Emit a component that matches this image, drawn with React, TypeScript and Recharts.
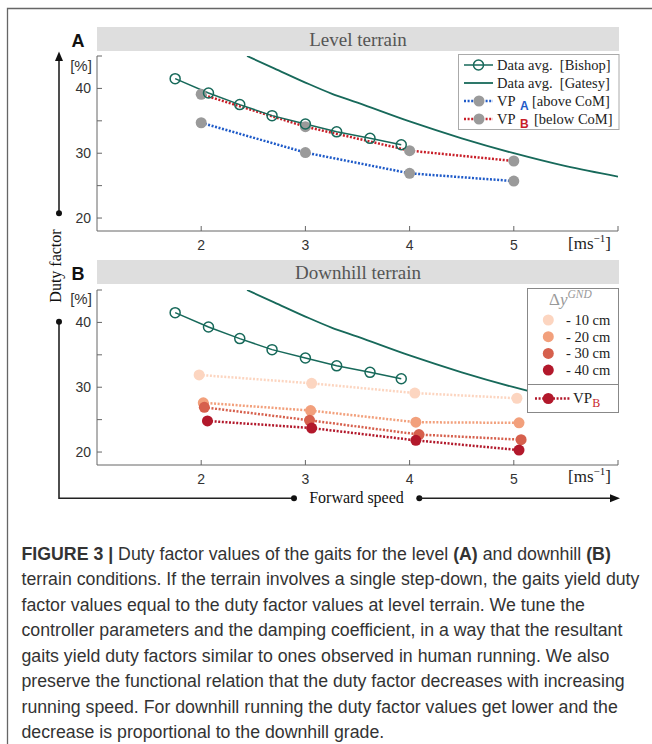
import React from 'react';
import { LineChart, Line, XAxis, YAxis } from 'recharts';

// forward speed [m/s] and duty factor [%]
const bishopSpeed = [1.75, 2.07, 2.37, 2.68, 3.0, 3.3, 3.62, 3.92];
const bishopDuty = [41.5, 39.3, 37.5, 35.8, 34.5, 33.3, 32.3, 31.3];

const gatesySpeed = [2.44, 2.7, 3.0, 3.25, 3.5, 4.0, 4.5, 5.0, 5.5, 6.0];
const gatesyDuty = [45, 43.1, 40.9, 39.2, 37.8, 34.9, 32.3, 30.0, 28.0, 26.4];

const vpSpeed = [2, 3, 4, 5];
const vpAboveDuty = [34.7, 30.1, 26.9, 25.7];
const vpBelowDuty = [39.1, 34.1, 30.4, 28.8];

const step10Speed = [1.98, 3.06, 4.05, 5.03];
const step10Duty = [31.9, 30.6, 29.1, 28.3];
const step20Speed = [2.02, 3.05, 4.06, 5.05];
const step20Duty = [27.6, 26.4, 24.6, 24.5];
const step30Speed = [2.03, 3.04, 4.09, 5.07];
const step30Duty = [26.9, 24.9, 22.7, 21.9];
const step40Speed = [2.06, 3.06, 4.06, 5.05];
const step40Duty = [24.8, 23.7, 21.8, 20.3];

const speedTicks = [2, 3, 4, 5, 6];
const dutyTicks = [20, 25, 30, 35, 40, 45];
const stepLabels = ['- 10 cm', '- 20 cm', '- 30 cm', '- 40 cm'];

const captionLines: [string, boolean][][] = [
  [['FIGURE 3 | ', true], ['Duty factor values of the gaits for the level ', false], ['(A)', true], [' and downhill ', false], ['(B)', true]],
  [['terrain conditions. If the terrain involves a single step-down, the gaits yield duty', false]],
  [['factor values equal to the duty factor values at level terrain. We tune the', false]],
  [['controller parameters and the damping coefficient, in a way that the resultant', false]],
  [['gaits yield duty factors similar to ones observed in human running. We also', false]],
  [['preserve the functional relation that the duty factor decreases with increasing', false]],
  [['running speed. For downhill running the duty factor values get lower and the', false]],
  [['decrease is proportional to the downhill grade.', false]],
];

const pts = (xs: number[], ys: number[]) => xs.map((speed, i) => ({ speed, duty: ys[i] }));

const GREEN = '#17695a';
const BLUE = '#1e5ac8';
const RED = '#c81e28';
const GREY = '#9a9a9a';
const stepColors = ['#fcd5c0', '#f2a07c', '#d6604d', '#b2182b'];
const SERIF = '"Liberation Serif", "DejaVu Serif", serif';
const SANS = '"Liberation Sans", Arial, sans-serif';
const DOTS = '2 1.6';
const CAP_SIZE = 18.5;

// caption font in the figure is a bit condensed: squeeze all lines by one factor
function lineWidth(segs: [string, boolean][]) {
  const ctx = document.createElement('canvas').getContext('2d');
  if (!ctx) return 700;
  let w = 0;
  for (const [t, b] of segs) {
    ctx.font = `${b ? 'bold ' : ''}${CAP_SIZE}px "Liberation Sans"`;
    w += ctx.measureText(t).width;
  }
  return w;
}
const capScale = (640 - 21.5) / lineWidth(captionLines[1]);

function YTick(props: any) {
  const { x, y, payload } = props;
  const v = payload.value;
  return (
    <g>
      <line x1={x} x2={x + 5} y1={y} y2={y} stroke="#666" />
      {v % 10 === 0 && (
        <text x={x - 6} y={y + 5} textAnchor="end" fontSize={14} fontFamily={SANS} fill="#333">
          {v}
        </text>
      )}
    </g>
  );
}

function XTick(props: any) {
  const { x, y, payload } = props;
  const v = payload.value;
  return (
    <g>
      <line x1={x} x2={x} y1={y} y2={y - 5} stroke="#666" />
      {v < 6 && (
        <text x={x} y={y + 19} textAnchor="middle" fontSize={14} fontFamily={SANS} fill="#333">
          {v}
        </text>
      )}
    </g>
  );
}

const axes = [
  <XAxis key="x" type="number" dataKey="speed" domain={[1, 6]} ticks={speedTicks} interval={0}
    allowDataOverflow tickLine={false} tickSize={0} tickMargin={0} tick={<XTick />} stroke="#666" height={30} />,
  <YAxis key="y" type="number" dataKey="duty" domain={[18, 45]} ticks={dutyTicks} interval={0}
    allowDataOverflow tickLine={false} tickSize={0} tickMargin={0} tick={<YTick />} stroke="#666" width={40} />,
];
const chartProps = { width: 652, height: 262, margin: { top: 56, right: 34, bottom: 1, left: 57 } };

function Bishop() {
  return (
    <Line data={pts(bishopSpeed, bishopDuty)} dataKey="duty" type="linear" stroke={GREEN} strokeWidth={1.5}
      dot={{ r: 5, fill: 'none', stroke: GREEN, strokeWidth: 1.5 }} activeDot={false} isAnimationActive={false} />
  );
}

export default function App() {
  return (
    <div style={{ position: 'absolute', left: 0, top: 0, width: 652, height: 744, background: '#fff', overflow: 'hidden' }}>
      <div style={{ position: 'absolute', left: 0, top: 0 }}>
        <LineChart {...chartProps}>
          {axes}
          <Line data={pts(gatesySpeed, gatesyDuty)} dataKey="duty" type="monotone" stroke={GREEN} strokeWidth={1.8}
            dot={false} activeDot={false} isAnimationActive={false} />
          <Line data={pts(vpSpeed, vpAboveDuty)} dataKey="duty" stroke={BLUE} strokeWidth={2.5} strokeDasharray={DOTS}
            dot={{ r: 5.5, fill: GREY, stroke: 'none', strokeDasharray: '' }} activeDot={false} isAnimationActive={false} />
          <Line data={pts(vpSpeed, vpBelowDuty)} dataKey="duty" stroke={RED} strokeWidth={2.5} strokeDasharray={DOTS}
            dot={{ r: 5.5, fill: GREY, stroke: 'none', strokeDasharray: '' }} activeDot={false} isAnimationActive={false} />
          {Bishop()}
        </LineChart>
      </div>
      <div style={{ position: 'absolute', left: 0, top: 233.5 }}>
        <LineChart {...chartProps}>
          {axes}
          <Line data={pts(gatesySpeed, gatesyDuty)} dataKey="duty" type="monotone" stroke={GREEN} strokeWidth={1.8}
            dot={false} activeDot={false} isAnimationActive={false} />
          {Bishop()}
          {[
            [step10Speed, step10Duty],
            [step20Speed, step20Duty],
            [step30Speed, step30Duty],
            [step40Speed, step40Duty],
          ].map(([s, d], i) => (
            <Line key={i} data={pts(s, d)} dataKey="duty" stroke={stepColors[i]} strokeWidth={2.5} strokeDasharray={DOTS}
              dot={{ r: 5.5, fill: stepColors[i], stroke: 'none', strokeDasharray: '' }} activeDot={false} isAnimationActive={false} />
          ))}
        </LineChart>
      </div>

      <svg width={652} height={744} style={{ position: 'absolute', left: 0, top: 0, pointerEvents: 'none' }}>
        {/* figure frame */}
        <polyline points="7.5,744 7.5,8.5 652,8.5" fill="none" stroke="#666" strokeWidth={1.3} />

        {/* panel headers */}
        <rect x={97} y={27} width={522} height={24} fill="#dedede" />
        <text x={358} y={46} textAnchor="middle" fontSize={19} fontFamily={SERIF} fill="#555">Level terrain</text>
        <rect x={97} y={260} width={522} height={24} fill="#dedede" />
        <text x={358} y={279} textAnchor="middle" fontSize={19} fontFamily={SERIF} fill="#555">Downhill terrain</text>

        <text x={78} y={46.5} textAnchor="middle" fontSize={18} fontWeight="bold" fontFamily={SANS} fill="#111">A</text>
        <text x={78} y={279.5} textAnchor="middle" fontSize={18} fontWeight="bold" fontFamily={SANS} fill="#111">B</text>
        <text x={81} y={71} textAnchor="middle" fontSize={15} fontFamily={SANS} fill="#333">[%]</text>
        <text x={81} y={304} textAnchor="middle" fontSize={15} fontFamily={SANS} fill="#333">[%]</text>

        {/* unit labels */}
        {[249, 482].map((by) => (
          <text key={by} x={568} y={by} fontSize={17} fontFamily={SERIF} fill="#222">
            [ms<tspan fontSize={11} dy={-7}>−1</tspan><tspan dy={7}>]</tspan>
          </text>
        ))}

        {/* axis arrows */}
        <line x1={59} y1={58} x2={59} y2={213.3} stroke="#222" strokeWidth={1.6} />
        <polygon points="59,51.5 55,61 63,61" fill="#111" />
        <circle cx={59} cy={213.3} r={3} fill="#111" />
        <text transform="translate(60.5,266) rotate(-90)" textAnchor="middle" fontSize={16} fontFamily={SERIF} fill="#111">Duty factor</text>
        <polyline points="59,321.7 59,498.3 294,498.3" fill="none" stroke="#222" strokeWidth={1.6} />
        <circle cx={59} cy={321.7} r={3} fill="#111" />
        <circle cx={294} cy={498.3} r={3} fill="#111" />
        <text x={356.5} y={503} textAnchor="middle" fontSize={16} fontFamily={SERIF} fill="#111">Forward speed</text>
        <circle cx={419.3} cy={498.3} r={3} fill="#111" />
        <line x1={419.3} y1={498.3} x2={612} y2={498.3} stroke="#222" strokeWidth={1.6} />
        <polygon points="620,498.3 610,494.3 610,502.3" fill="#111" />

        {/* legend A */}
        <rect x={458.5} y={54.5} width={160.5} height={75} fill="#fff" stroke="#aaa" />
        <line x1={464} x2={493} y1={65} y2={65} stroke={GREEN} strokeWidth={1.5} />
        <circle cx={478.5} cy={65} r={5} fill="none" stroke={GREEN} strokeWidth={1.5} />
        <line x1={464} x2={493} y1={83} y2={83} stroke={GREEN} strokeWidth={1.8} />
        <line x1={464} x2={493} y1={101} y2={101} stroke={BLUE} strokeWidth={2.5} strokeDasharray={DOTS} />
        <circle cx={479} cy={101} r={5.5} fill={GREY} />
        <line x1={464} x2={493} y1={119} y2={119} stroke={RED} strokeWidth={2.5} strokeDasharray={DOTS} />
        <circle cx={479} cy={119} r={5.5} fill={GREY} />
        <g fontSize={14.5} fontFamily={SERIF} fill="#222">
          <text x={497} y={70} style={{ whiteSpace: 'pre' }}>Data avg.  [Bishop]</text>
          <text x={497} y={88} style={{ whiteSpace: 'pre' }}>Data avg.  [Gatesy]</text>
          <text x={497} y={106}>VP</text>
          <text x={520} y={110} fontSize={12} fontWeight="bold" fontFamily={SANS} fill={BLUE}>A</text>
          <text x={532} y={106}>[above CoM]</text>
          <text x={497} y={124}>VP</text>
          <text x={520} y={128} fontSize={12} fontWeight="bold" fontFamily={SANS} fill={RED}>B</text>
          <text x={534} y={124}>[below CoM]</text>
        </g>

        {/* legend B */}
        <rect x={527.5} y={288.5} width={91} height={96} fill="#fff" stroke="#888" />
        <text x={549} y={305} fontSize={17} fontFamily={SERIF} fill="#999">
          Δ<tspan fontStyle="italic">y</tspan>
          <tspan fontSize={11.5} fontStyle="italic" dy={-7}>GND</tspan>
        </text>
        {stepLabels.map((lab, i) => (
          <g key={lab}>
            <circle cx={548.3} cy={320 + i * 16.7} r={5.5} fill={stepColors[i]} />
            <text x={566} y={325 + i * 16.7} fontSize={14.5} fontFamily={SERIF} fill="#222">{lab}</text>
          </g>
        ))}
        <rect x={527.5} y={384.5} width={91} height={28} fill="#fff" stroke="#888" />
        <line x1={535} x2={570} y1={398.5} y2={398.5} stroke={stepColors[3]} strokeWidth={2.5} strokeDasharray={DOTS} />
        <circle cx={548.3} cy={398.5} r={5.5} fill={stepColors[3]} />
        <text x={573} y={403} fontSize={15} fontFamily={SERIF} fill="#222">
          VP<tspan fontSize={12} dy={4} fill={RED}>B</tspan>
        </text>

        {/* caption */}
        {captionLines.map((segs, i) => (
          <text key={i} transform={`translate(21.5 ${559.5 + i * 25.5}) scale(${capScale} 1)`}
            fontSize={CAP_SIZE} fontFamily={SANS} fill="#333" style={{ whiteSpace: 'pre' }}>
            {segs.map(([t, b], j) => (
              <tspan key={j} fontWeight={b ? 'bold' : 'normal'}>{t}</tspan>
            ))}
          </text>
        ))}
      </svg>
    </div>
  );
}
